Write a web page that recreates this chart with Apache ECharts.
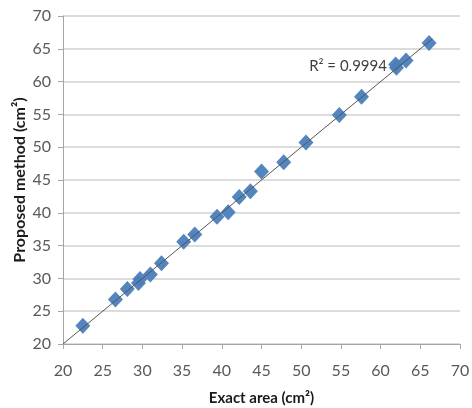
<!DOCTYPE html>
<html>
<head>
<meta charset="utf-8">
<script src="https://cdn.jsdelivr.net/npm/echarts@6/dist/echarts.min.js"></script>
<style>
html,body{margin:0;padding:0;background:#fff;}
#c{width:472px;height:408px;}
</style>
</head>
<body>
<div id="c"></div>
<script>
var exactArea = [22.5, 26.6, 28.1, 29.5, 29.7, 31.0, 32.4, 35.2, 36.6, 39.4, 40.8, 42.2, 43.6, 45.0, 47.8, 50.6, 54.8, 57.6, 61.9, 62.0, 63.2, 66.1];
var proposed  = [22.8, 26.8, 28.4, 29.3, 29.9, 30.6, 32.3, 35.6, 36.7, 39.4, 40.1, 42.4, 43.3, 46.3, 47.7, 50.7, 54.9, 57.7, 62.6, 62.1, 63.2, 65.9];
var trendX = [20, 66.5];
var trendY = [20, 66.5];
var r2Text = 'R\u00B2 = 0.9994';
var r2Pos = [60.8, 62.4];
var xTitle = 'Exact area (cm\u00B2)';
var yTitle = 'Proposed method (cm\u00B2)';

var font = "Lato,'Open Sans',sans-serif";
var chart = echarts.init(document.getElementById('c'));
chart.setOption({
  animation: false,
  backgroundColor: '#fff',
  grid: {left: 63, right: 12, top: 16, bottom: 64, containLabel: false, outerBoundsMode: 'none'},
  xAxis: {
    type: 'value', min: 20, max: 70, interval: 5,
    name: xTitle, nameLocation: 'middle', nameGap: 47, nameMoveOverlap: false,
    nameTextStyle: {fontFamily: font, fontWeight: 'bold', fontSize: 15, color: '#1a1a1a'},
    axisLine: {show: true, lineStyle: {color: '#a6a6a6', width: 1}},
    axisTick: {show: true, length: 5, lineStyle: {color: '#a6a6a6'}},
    axisLabel: {fontFamily: font, fontSize: 16, color: '#595959', margin: 19},
    splitLine: {show: false}
  },
  yAxis: {
    type: 'value', min: 20, max: 70, interval: 5,
    name: yTitle, nameLocation: 'middle', nameGap: 35, nameMoveOverlap: false,
    nameTextStyle: {fontFamily: font, fontWeight: 'bold', fontSize: 16, color: '#1a1a1a'},
    axisLine: {show: true, lineStyle: {color: '#a6a6a6', width: 1}},
    axisTick: {show: true, length: 5, lineStyle: {color: '#a6a6a6'}},
    axisLabel: {fontFamily: font, fontSize: 16, color: '#595959', margin: 12},
    splitLine: {show: true, lineStyle: {color: '#d0d0d0', width: 1.5}}
  },
  series: [
    {
      type: 'line',
      data: trendX.map(function(x, i){ return [x, trendY[i]]; }),
      symbol: 'none',
      lineStyle: {color: '#555', width: 1},
      z: 3,
      markPoint: {
        symbol: 'circle', symbolSize: 0,
        data: [{coord: r2Pos, value: r2Text}],
        label: {show: true, position: 'left', distance: 0, formatter: r2Text,
                fontFamily: font, fontSize: 15, color: '#404040'}
      }
    },
    {
      type: 'scatter',
      data: exactArea.map(function(x, i){ return [x, proposed[i]]; }),
      symbol: 'diamond',
      symbolSize: [15, 16],
      itemStyle: {color: '#4a7ebb', opacity: 0.95},
      z: 2
    }
  ]
});
</script>
</body>
</html>
